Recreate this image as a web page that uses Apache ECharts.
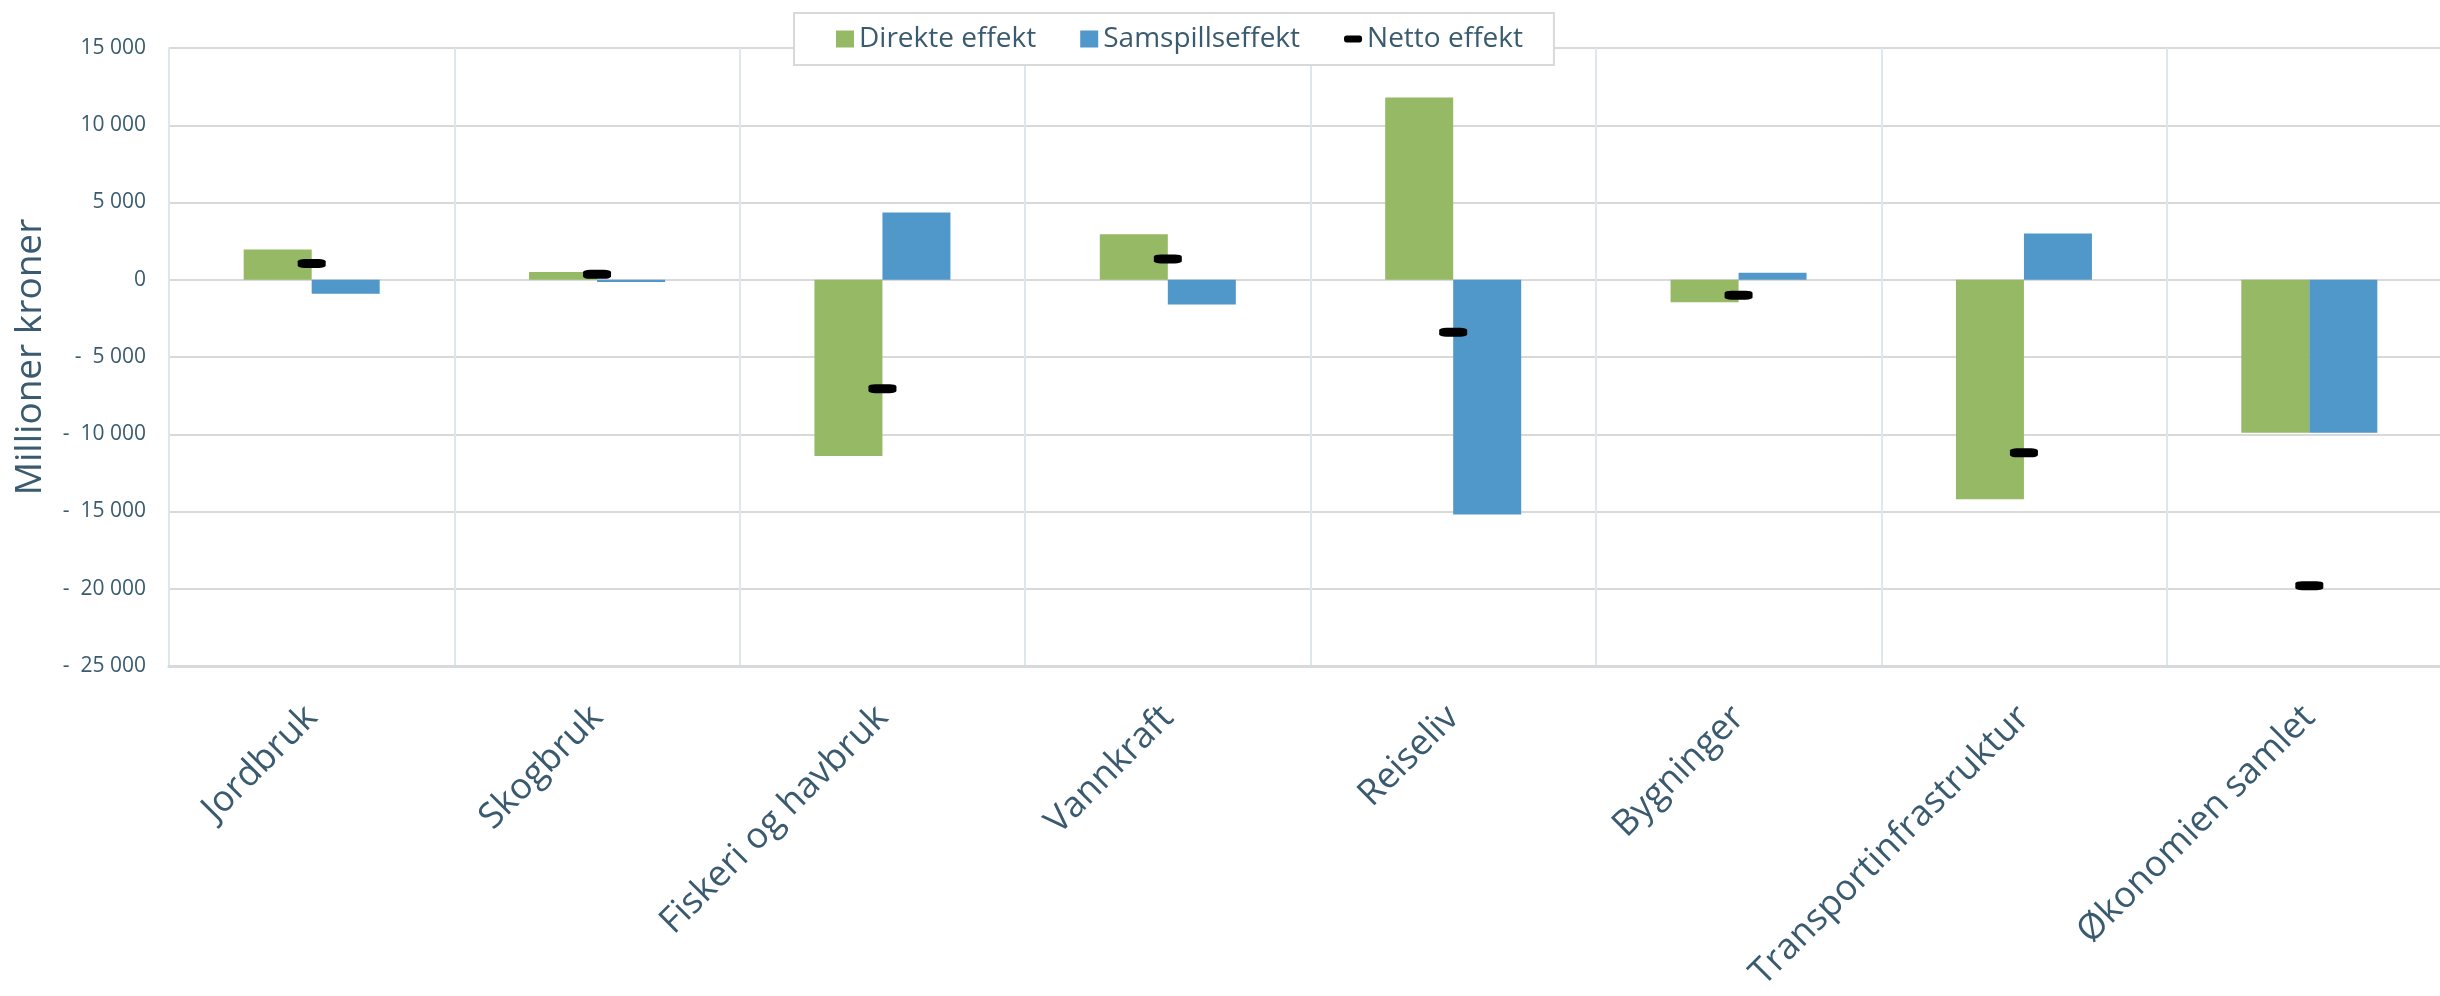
<!DOCTYPE html>
<html>
<head>
<meta charset="utf-8" />
<title>Direkte effekt, samspillseffekt og netto effekt</title>
<script src="https://cdn.jsdelivr.net/npm/echarts/dist/echarts.min.js"></script>
<style>
  html,
  body {
    margin: 0;
    padding: 0;
    background: #fff;
  }
  #chart {
    width: 2440px;
    height: 996px;
  }
</style>
</head>
<body>
<div id="chart"></div>
<script>
const categories = [
  "Jordbruk",
  "Skogbruk",
  "Fiskeri og havbruk",
  "Vannkraft",
  "Reiseliv",
  "Bygninger",
  "Transportinfrastruktur",
  "Økonomien samlet",
];
// millioner kroner, lest av figuren
const direkteEffekt = [1950, 500, -11400, 2950, 11800, -1450, -14200, -9900];
const samspillsEffekt = [-900, -150, 4350, -1600, -15200, 450, 3000, -9900];
const nettoEffekt = [1050, 350, -7050, 1350, -3400, -1000, -11200, -19800];

const textColor = "#3a5b6f";
const font = "'Open Sans', sans-serif";

// 15 000 / -  5 000
function formatTick(v) {
  const s = Math.abs(v)
    .toString()
    .replace(/\B(?=(\d{3})+(?!\d))/g, " ");
  return v < 0 ? "-  " + s : s;
}

const chart = echarts.init(document.getElementById("chart"));
chart.setOption({
  animation: false,
  textStyle: { fontFamily: font },
  legend: {
    left: 794,
    top: 13,
    padding: [12, 31, 12, 42],
    backgroundColor: "#fff",
    borderColor: "#d9d9d9",
    borderWidth: 2,
    itemWidth: 18,
    itemHeight: 17,
    itemGap: 44,
    textStyle: { fontSize: 28, color: textColor, fontFamily: font },
    data: [
      { name: "Direkte effekt", icon: "rect" },
      { name: "Samspillseffekt", icon: "rect" },
      {
        name: "Netto effekt",
        icon: "path://M3,0 L18,0 Q21,0 21,3 L21,5 Q21,8 18,8 L3,8 Q0,8 0,5 L0,3 Q0,0 3,0 Z",
      },
    ],
  },
  grid: {
    left: 169,
    width: 2283, // plottet går litt utenfor høyre kant
    top: 48,
    bottom: 330,
    outerBoundsMode: "none",
  },
  xAxis: {
    type: "category",
    data: categories,
    axisTick: { show: false },
    axisLine: {
      onZero: false,
      lineStyle: { color: "#d9d9d9", width: 3 },
    },
    splitLine: {
      show: true,
      lineStyle: { color: "#dde7ee", width: 2 },
    },
    axisLabel: {
      rotate: 45,
      margin: 46,
      fontSize: 36,
      color: textColor,
      fontFamily: font,
      interval: 0,
    },
  },
  yAxis: {
    type: "value",
    min: -25000,
    max: 15000,
    interval: 5000,
    name: "Millioner kroner",
    nameLocation: "middle",
    nameGap: 120,
    nameTextStyle: { fontSize: 37, color: textColor, fontFamily: font },
    axisLine: {
      show: true,
      lineStyle: { color: "#dde7ee", width: 2 },
    },
    axisTick: { show: false },
    axisLabel: {
      margin: 23,
      fontSize: 21,
      color: textColor,
      fontFamily: font,
      formatter: formatTick,
    },
    splitLine: {
      lineStyle: { color: "#d9d9d9", width: 2 },
    },
  },
  series: [
    {
      name: "Direkte effekt",
      type: "bar",
      barWidth: 68,
      barGap: "0%",
      itemStyle: { color: "#96b966" },
      data: direkteEffekt,
    },
    {
      name: "Samspillseffekt",
      type: "bar",
      barWidth: 68,
      barGap: "0%",
      itemStyle: { color: "#5097ca" },
      data: samspillsEffekt,
    },
    {
      name: "Netto effekt",
      type: "scatter",
      symbol: "roundRect",
      symbolSize: [28, 9],
      itemStyle: { color: "#000", opacity: 1 },
      z: 5,
      data: nettoEffekt,
    },
  ],
});
</script>
</body>
</html>
